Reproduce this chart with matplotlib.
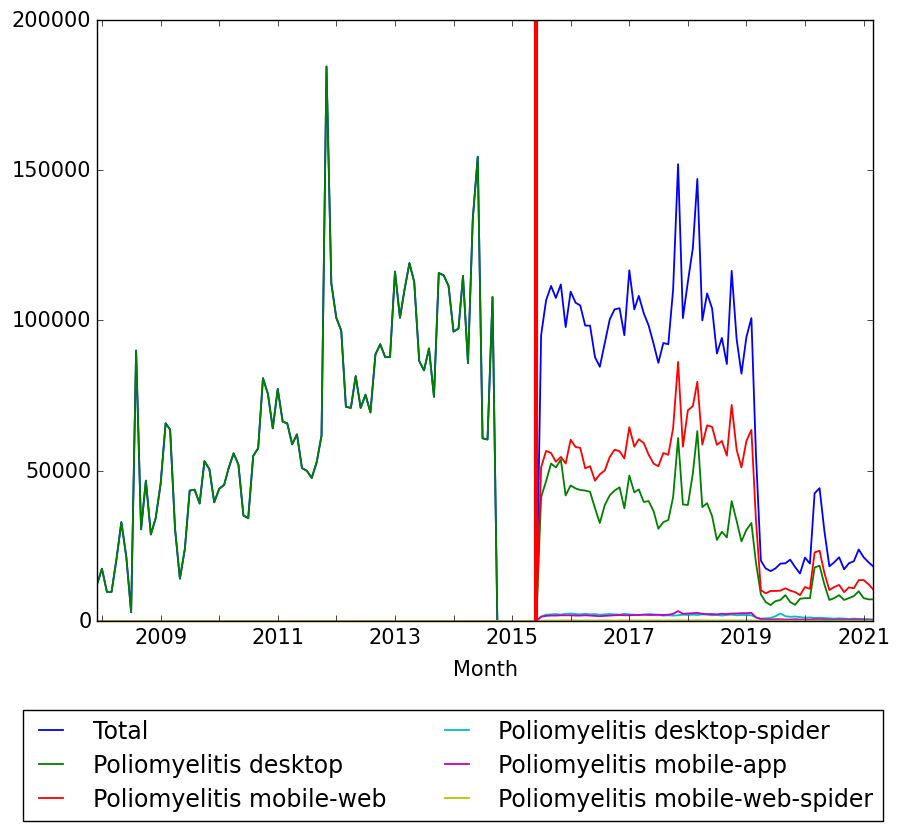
import matplotlib
matplotlib.use('Agg')
import matplotlib.pyplot as plt
import pandas as pd

plt.style.use('classic')
plt.rcParams['font.family'] = ['DejaVu Sans']
plt.rcParams['font.size'] = 15

# monthly views, Dec 2007 .. Jun 2015 (old counts: total == desktop)
total_pre = [12100,
             17400, 9700, 9700, 20700, 32900, 21300, 2900, 90000, 30500, 46700, 28800, 34200,
             45700, 65800, 63700, 30500, 14100, 24000, 43400, 43700, 39100, 53200, 50500, 39500,
             44000, 45300, 50900, 55800, 52000, 35100, 34200, 54900, 57500, 80800, 75500, 64100,
             77200, 66300, 65800, 58800, 62100, 50900, 50000, 47600, 52900, 61700, 184500, 112400,
             100900, 96600, 71300, 70900, 81500, 70900, 75300, 69400, 88700, 92100, 87800, 87800,
             116300, 100900, 110100, 119100, 112800, 86500, 83400, 90700, 74600, 115800, 115000, 111500,
             96300, 97300, 114800, 85800, 133800, 154500, 60800, 60400, 107800, 0, 0, 0,
             0, 0, 0, 0, 0, 0]

# Jul 2015 .. Mar 2021
total_post = [95100, 106700, 111500, 107500, 112000, 97800,
              109600, 105900, 105000, 98300, 98300, 87800, 84600, 92500, 100400, 103700, 104100, 95100,
              116700, 103700, 108200, 102400, 98400, 92300, 85900, 92500, 92100, 110300, 152000, 100800,
              112900, 124100, 147100, 100000, 109000, 104000, 89000, 94200, 85500, 116500, 93800, 82300,
              94500, 100800, 56000, 20100, 17500, 16600, 17500, 19100, 19200, 20400, 17900, 15800,
              21100, 19100, 42500, 44200, 30000, 18200, 19500, 21200, 17200, 19200, 19900, 23800,
              21200, 19500, 18200]
desktop_post = [41200, 46500, 52400, 51100, 53700, 41800,
                45100, 44100, 43600, 43400, 43000, 37500, 32600, 38600, 41800, 43400, 44500, 37500,
                48400, 42800, 43800, 39600, 39900, 36600, 30700, 32900, 33600, 41200, 60900, 38800,
                38600, 49100, 63200, 37900, 39200, 34900, 27000, 29700, 27800, 39900, 33300, 26500,
                30300, 32600, 19600, 8900, 6300, 5300, 6600, 7000, 8600, 6300, 5400, 7400,
                7600, 7600, 17800, 18400, 12200, 7000, 7600, 8600, 7000, 7600, 8300, 9900,
                7600, 7200, 7200]
mobile_web_post = [51100, 56600, 55900, 53000, 54600, 52400,
                   60300, 57900, 57600, 50800, 51500, 46700, 48800, 50100, 54600, 57000, 56500, 54100,
                   64500, 58000, 60500, 59200, 55400, 52400, 51500, 55900, 55300, 64200, 86200, 58000,
                   70100, 71500, 79600, 58700, 65100, 64600, 58600, 59900, 55000, 71900, 57000, 51100,
                   59900, 63600, 34000, 10300, 9200, 10000, 10000, 10100, 10900, 10100, 9600, 8600,
                   11300, 10700, 22800, 23400, 16000, 10300, 11300, 12000, 9600, 11200, 10900, 13600,
                   13600, 12200, 10500]
desktop_spider_post = [1500, 2100, 2200, 2300, 2100, 2400,
                       2500, 2300, 2200, 2400, 2200, 2300, 2100, 2200, 2300, 2200, 2100, 2400,
                       2200, 2100, 2000, 2100, 2300, 2200, 2000, 1800, 1900, 1800, 1900, 2100,
                       2000, 2100, 2000, 2200, 2100, 1900, 2000, 1800, 2000, 2100, 1900, 2000,
                       2000, 1900, 1200, 800, 900, 1000, 1600, 2500, 1600, 1400, 1500, 1300,
                       1100, 1200, 1000, 1100, 1000, 900, 800, 900, 800, 700, 800, 700,
                       700, 600, 500]
mobile_app_post = [1400, 1700, 1800, 1800, 1900, 1900,
                   1900, 1800, 1800, 1900, 1800, 1700, 1600, 1700, 1800, 1900, 2000, 1900,
                   1900, 2000, 2000, 2100, 2000, 2000, 2100, 2000, 2100, 2400, 3300, 2400,
                   2500, 2600, 2700, 2400, 2300, 2300, 2200, 2400, 2300, 2500, 2500, 2600,
                   2600, 2700, 1200, 600, 500, 500, 600, 600, 500, 500, 600, 500,
                   500, 500, 600, 600, 500, 500, 400, 500, 500, 400, 500, 500,
                   400, 400, 400]
mobile_web_spider_post = [100, 150, 150, 150, 200, 200,
                          200, 200, 150, 200, 200, 150, 200, 200, 200, 150, 200, 200,
                          200, 200, 200, 150, 200, 200, 200, 150, 200, 200, 250, 200,
                          200, 200, 250, 200, 200, 200, 150, 200, 200, 200, 200, 200,
                          200, 200, 150, 100, 100, 100, 100, 150, 100, 100, 100, 100,
                          100, 100, 150, 150, 100, 100, 100, 100, 100, 100, 100, 100,
                          100, 100, 100]

zeros_pre = [0] * len(total_pre)
months = pd.date_range('2007-12-01', periods=len(total_pre) + len(total_post), freq='MS')
split_date = pd.Timestamp('2015-06-01')

series = [
    ('Total', total_pre + total_post),
    ('Poliomyelitis desktop', total_pre + desktop_post),
    ('Poliomyelitis mobile-web', zeros_pre + mobile_web_post),
    ('Poliomyelitis desktop-spider', zeros_pre + desktop_spider_post),
    ('Poliomyelitis mobile-app', zeros_pre + mobile_app_post),
    ('Poliomyelitis mobile-web-spider', zeros_pre + mobile_web_spider_post),
]

fig = plt.figure(figsize=(9.02, 8.29), dpi=100, facecolor='white')
ax = fig.add_axes([0.1075, 0.2497, 0.8605, 0.725])

for name, vals in series:
    ax.plot(months, vals, label=name, linewidth=1.3)
ax.axvline(split_date, color='r', linewidth=3)

ax.set_xlim(months[0], months[-1])
ax.set_ylim(0, 200000)
ax.set_yticks([0, 50000, 100000, 150000, 200000])
ax.set_yticklabels(['0', '50000', '100000', '150000', '200000'])

years = list(range(2009, 2022, 2))
ax.set_xticks([pd.Timestamp(str(y)) for y in years])
ax.set_xticklabels([str(y) for y in years])
ax.set_xticks([pd.Timestamp(str(y)) for y in range(2008, 2022, 2)], minor=True)
ax.tick_params(which='minor', length=4)
ax.set_xlabel('Month', labelpad=9)

fig.legend(*ax.get_legend_handles_labels(), loc='upper center',
           bbox_to_anchor=(0.502, 0.1425), borderaxespad=0, ncol=2, fontsize=17,
           columnspacing=2.2, handlelength=1.6, handletextpad=0.95, labelspacing=0.42)

fig.savefig('out.png', dpi=100, facecolor='white')
